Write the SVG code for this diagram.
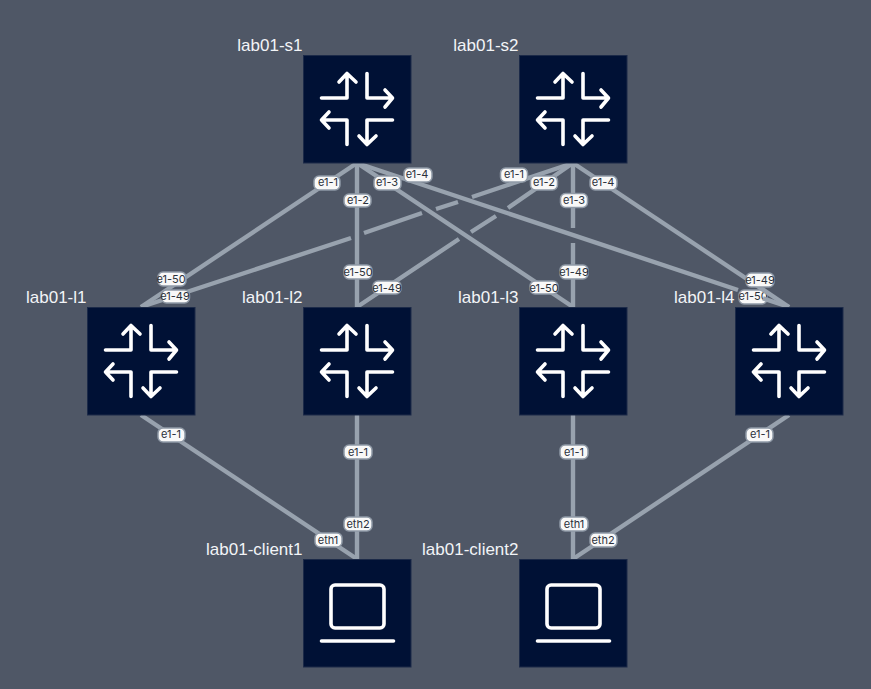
<svg xmlns="http://www.w3.org/2000/svg" width="871" height="689" viewBox="0 0 871 689">
  <style>
    .link { fill: none; stroke: #98a2ae; stroke-width: 4.4; }
    .box { fill: #001135; stroke: #1c2a48; stroke-width: 1; }
    .glyph { fill: none; stroke: #fff; stroke-width: 3.6; stroke-linecap: round; stroke-linejoin: round; }
    .name { font-family: "Liberation Sans", Arial, sans-serif; font-size: 17px; fill: #f2f4f7; text-anchor: end; }
    .tag rect { fill: #f8f8f8; stroke: #8f99a6; stroke-width: 1.5; }
    .tag text { font-family: Inter, "Noto Sans", sans-serif; font-size: 11px; fill: #2a303a; text-anchor: middle; }
  </style>
  <defs>
    <g id="router">
      <rect class="box" x="0.5" y="0.5" width="107.500" height="107.500"/>
      <path class="glyph" d="M18.500 43H44V18.500M36 27L44 18.500L53 27"/>
      <path class="glyph" d="M64 18.500V43H89.500M82 35L89.500 43L82 52"/>
      <path class="glyph" d="M44 89.500V65H18.500M26 57L18.500 65L26 73"/>
      <path class="glyph" d="M89.500 65H64V89.500M56 81L64 89.500L73 81"/>
    </g>
    <g id="laptop">
      <rect class="box" x="0.5" y="0.5" width="107.500" height="107.500"/>
      <rect class="glyph" x="28" y="26" width="53" height="43" rx="4"/>
      <path class="glyph" d="M18.500 82H90.500"/>
    </g>
  </defs>
  <rect width="871" height="689" fill="#4f5766"/>

  <!-- this tag sits under the spine links that pass across its corner -->
  <g class="tag"><rect x="739" y="290" width="28" height="14" rx="5"/><text x="753" y="300">e1-50</text></g>

  <g id="connectors">
    <path class="link" d="M357 163L141 307"/>
    <path class="link" d="M357 163V307"/>
    <path class="link" d="M357 163L573 307"/>
    <path class="link" d="M357 163L738 290M763 298.300L789 307"/>
    <path class="link" d="M573 163L472 197M458 202L436 209M422 213L364 233M351 238L141 307"/>
    <path class="link" d="M573 163L508 208M496 216L471 232M459 239L357 307"/>
    <path class="link" d="M573 163V228M573 243V307"/>
    <path class="link" d="M573 163L789 307"/>
    <path class="link" d="M141 415L357 559"/>
    <path class="link" d="M357 415V559"/>
    <path class="link" d="M573 415V559"/>
    <path class="link" d="M789 415L573 559"/>
  </g>

  <g id="link-labels">
    <g class="tag"><rect x="314" y="176" width="26" height="14" rx="5"/><text x="328" y="186">e1-1</text></g>
    <g class="tag"><rect x="344" y="194" width="27" height="13" rx="5"/><text x="358" y="203.500">e1-2</text></g>
    <g class="tag"><rect x="374" y="176" width="27" height="14" rx="5"/><text x="387" y="186">e1-3</text></g>
    <g class="tag"><rect x="404" y="168" width="28" height="14" rx="5"/><text x="417" y="178">e1-4</text></g>
    <g class="tag"><rect x="500.500" y="168" width="27" height="14" rx="5"/><text x="514" y="178">e1-1</text></g>
    <g class="tag"><rect x="530.500" y="176" width="27" height="14" rx="5"/><text x="544" y="186">e1-2</text></g>
    <g class="tag"><rect x="560.500" y="193.500" width="27" height="14" rx="5"/><text x="574" y="203.500">e1-3</text></g>
    <g class="tag"><rect x="590" y="176" width="27" height="14" rx="5"/><text x="603" y="186">e1-4</text></g>
    <g class="tag"><rect x="158" y="272" width="28" height="14" rx="5"/><text x="171" y="283">e1-50</text></g>
    <g class="tag"><rect x="161.500" y="290" width="28" height="13" rx="5"/><text x="175" y="300">e1-49</text></g>
    <g class="tag"><rect x="344" y="265" width="28" height="14" rx="5"/><text x="358" y="275.500">e1-50</text></g>
    <g class="tag"><rect x="373" y="281" width="28" height="13" rx="5"/><text x="387" y="291.500">e1-49</text></g>
    <g class="tag"><rect x="560" y="265" width="28" height="14" rx="5"/><text x="574" y="275.500">e1-49</text></g>
    <g class="tag"><rect x="530" y="281" width="28" height="13" rx="5"/><text x="544" y="291.500">e1-50</text></g>
    <g class="tag"><rect x="746" y="273" width="28" height="14" rx="5"/><text x="760" y="283.500">e1-49</text></g>
    <g class="tag"><rect x="158" y="428" width="27" height="14" rx="5"/><text x="171" y="438">e1-1</text></g>
    <g class="tag"><rect x="344" y="445" width="28" height="14" rx="5"/><text x="358" y="456">e1-1</text></g>
    <g class="tag"><rect x="560" y="445" width="28" height="14" rx="5"/><text x="574" y="456">e1-1</text></g>
    <g class="tag"><rect x="746" y="428" width="27" height="14" rx="5"/><text x="760" y="438">e1-1</text></g>
    <g class="tag"><rect x="344" y="517" width="28" height="14" rx="5"/><text x="358" y="528">eth2</text></g>
    <g class="tag"><rect x="315" y="533" width="27" height="14" rx="5"/><text x="328" y="544">eth1</text></g>
    <g class="tag"><rect x="560" y="517" width="28" height="14" rx="5"/><text x="574" y="528">eth1</text></g>
    <g class="tag"><rect x="590" y="533" width="27" height="14" rx="5"/><text x="603" y="544">eth2</text></g>
  </g>

  <g id="lab01-s1"><use href="#router" x="303" y="55"/><text class="name" x="302.500" y="51">lab01-s1</text></g>
  <g id="lab01-s2"><use href="#router" x="519" y="55"/><text class="name" x="518.500" y="51">lab01-s2</text></g>
  <g id="lab01-l1"><use href="#router" x="87" y="307"/><text class="name" x="86.500" y="303">lab01-l1</text></g>
  <g id="lab01-l2"><use href="#router" x="303" y="307"/><text class="name" x="302.500" y="303">lab01-l2</text></g>
  <g id="lab01-l3"><use href="#router" x="519" y="307"/><text class="name" x="518.500" y="303">lab01-l3</text></g>
  <g id="lab01-l4"><use href="#router" x="735" y="307"/><text class="name" x="734.500" y="303">lab01-l4</text></g>
  <g id="lab01-client1"><use href="#laptop" x="303" y="559"/><text class="name" x="302.500" y="555">lab01-client1</text></g>
  <g id="lab01-client2"><use href="#laptop" x="519" y="559"/><text class="name" x="518.500" y="555">lab01-client2</text></g>
</svg>
